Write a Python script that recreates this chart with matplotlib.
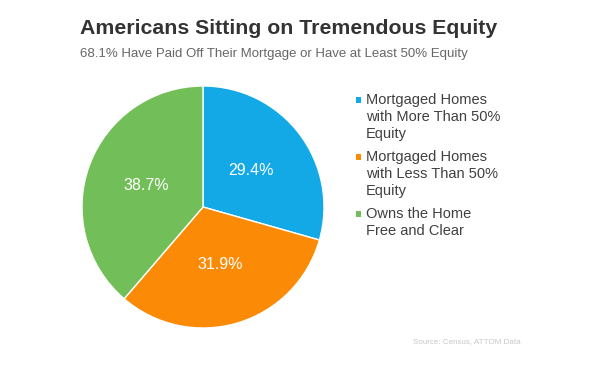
import matplotlib
matplotlib.use("Agg")
import matplotlib.pyplot as plt
from matplotlib.patches import Rectangle

categories = ["Mortgaged Homes\nwith More Than 50%\nEquity",
              "Mortgaged Homes\nwith Less Than 50%\nEquity",
              "Owns the Home\nFree and Clear"]
values = [29.4, 31.9, 38.7]
colors = ["#13A9E6", "#FB8A06", "#72BE58"]

plt.rcParams['font.family'] = ['Liberation Sans', 'DejaVu Sans']

W, H = 600, 366
fig = plt.figure(figsize=(6, 3.66), dpi=100)
fig.patch.set_facecolor("white")

cx, cy, r = 203, 207, 121
ax = fig.add_axes([(cx - r) / W, (H - cy - r) / H, 2 * r / W, 2 * r / H])
wedges, texts, autotexts = ax.pie(values, colors=colors, startangle=90, counterclock=False,
                                  autopct="%.1f%%", pctdistance=0.5,
                                  wedgeprops=dict(linewidth=1, edgecolor="white"),
                                  textprops=dict(color="white", fontsize=11.5))
ax.set_xlim(-1, 1)
ax.set_ylim(-1, 1)
ax.set_aspect("auto")
ax.axis("off")

fig.text(80 / W, 1 - 29 / H, "Americans Sitting on Tremendous Equity", fontsize=15.3,
         fontweight="bold", color="#333333", va="center", ha="left")
fig.text(80 / W, 1 - 54 / H, "68.1% Have Paid Off Their Mortgage or Have at Least 50% Equity",
         fontsize=9.5, color="#666666", va="center", ha="left")
fig.text(413 / W, 1 - 342 / H, "Source: Census, ATTOM Data", fontsize=5.8,
         color="#c8c8c8", va="center", ha="left")

# legend drawn manually so the marker aligns with the first line
line_h = 16.8
y = 100
for cat, col in zip(categories, colors):
    fig.patches.append(Rectangle((355.5 / W, 1 - (y + 2.8) / H), 5.8 / W, 5.8 / H,
                                 transform=fig.transFigure, facecolor=col, edgecolor="none"))
    for i, line in enumerate(cat.split("\n")):
        fig.text(366 / W, 1 - (y + i * line_h) / H, line, fontsize=10.5, color="#404040",
                 va="center", ha="left")
    y += 57

fig.savefig("out.png", dpi=100, facecolor="white")
